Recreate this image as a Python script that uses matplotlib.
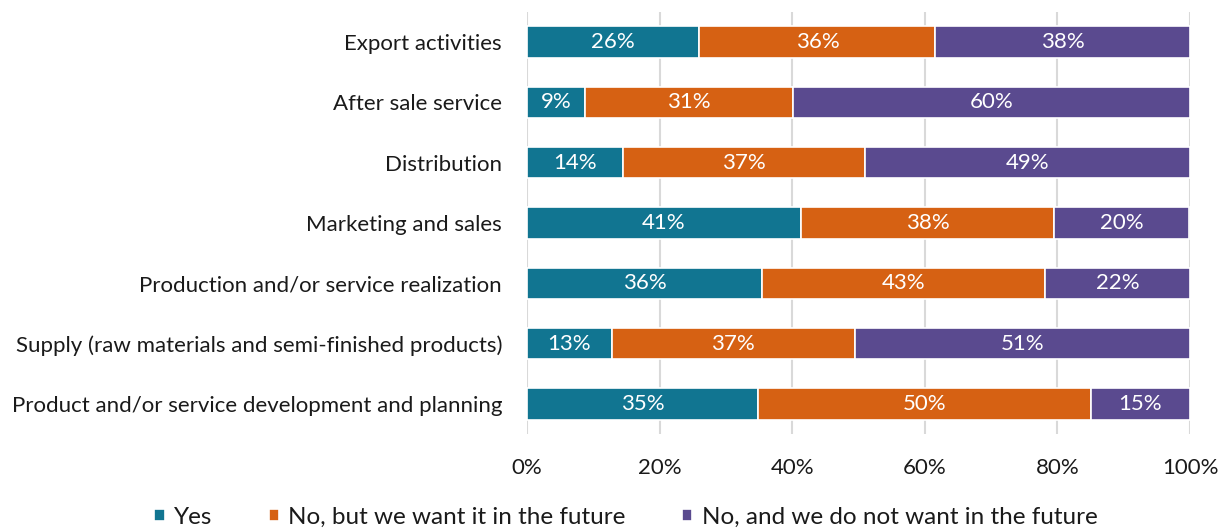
import matplotlib.pyplot as plt
import numpy as np

plt.rcParams['font.family'] = ['Lato', 'DejaVu Sans']

# Categories, bottom to top
categories = [
    'Product and/or service development and planning',
    'Supply (raw materials and semi-finished products)',
    'Production and/or service realization',
    'Marketing and sales',
    'Distribution',
    'After sale service',
    'Export activities',
]
yes = [34.8, 12.8, 35.5, 41.3, 14.4, 8.7, 26.0]
no_but_want = [50.2, 36.6, 42.6, 38.2, 36.6, 31.4, 35.6]
no_not_want = [15.0, 50.6, 21.9, 20.4, 49.0, 59.9, 38.4]

series = ['Yes', 'No, but we want it in the future', 'No, and we do not want in the future']
colors = ['#117591', '#D66113', '#5A4A8F']
ticks = [0, 20, 40, 60, 80, 100]
tick_labels = ['0%', '20%', '40%', '60%', '80%', '100%']

fs = 16

fig = plt.figure(figsize=(12.2, 5.31), dpi=100)
ax = fig.add_axes([0.432, 0.1827, 0.5434, 0.7947])

y = np.arange(len(categories))
left = np.zeros(len(categories))
for vals, name, col in zip([yes, no_but_want, no_not_want], series, colors):
    vals = np.array(vals)
    bars = ax.barh(y, vals, left=left, height=0.52, color=col,
                   edgecolor='white', linewidth=1.2, label=name, zorder=3)
    for b, v in zip(bars, vals):
        ax.text(b.get_x() + b.get_width() / 2, b.get_y() + b.get_height() / 2,
                f'{v:.0f}%', ha='center', va='center', color='white',
                fontsize=fs, zorder=4)
    left += vals

ax.set_xlim(0, 100)
ax.set_ylim(-0.5, len(categories) - 0.5)
ax.set_yticks(y)
ax.set_yticklabels(categories, fontsize=fs, color='#1a1a1a')
ax.set_xticks(ticks)
ax.set_xticklabels(tick_labels, fontsize=fs, color='#1a1a1a')
ax.tick_params(axis='both', length=0)
ax.tick_params(axis='x', pad=17)
ax.tick_params(axis='y', pad=18)
ax.grid(axis='x', color='#d9d9d9', linewidth=1.5, zorder=0)
for s in ax.spines.values():
    s.set_visible(False)

fig.legend(loc='center', bbox_to_anchor=(0.513, 0.026), ncol=3, frameon=False,
           fontsize=17.5, handlelength=0.42, handleheight=0.42, handletextpad=0.4,
           columnspacing=2.3, labelcolor='#1a1a1a')

fig.savefig('out.png', dpi=100)
